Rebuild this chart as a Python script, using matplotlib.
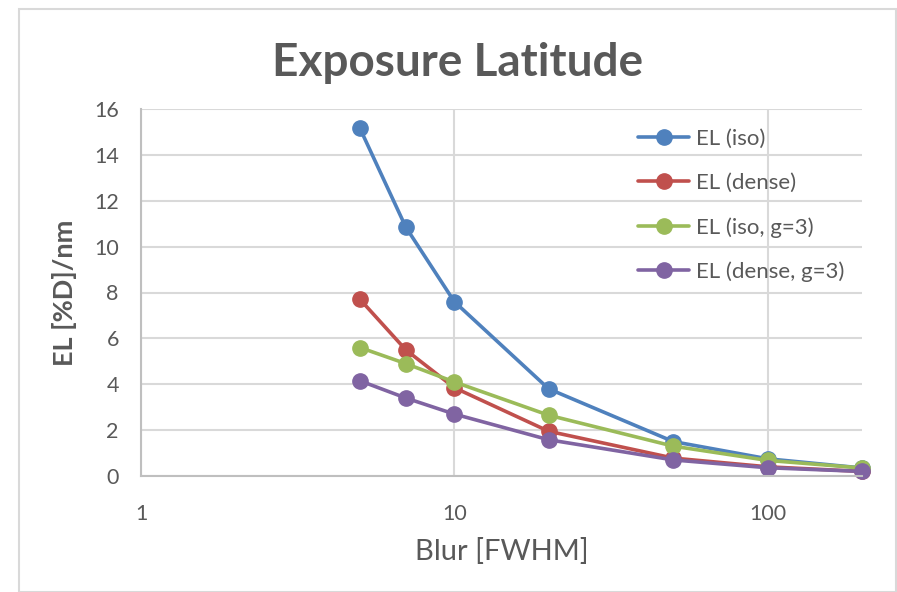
import matplotlib.pyplot as plt
from matplotlib.patches import Rectangle

blur = [5, 7, 10, 20, 50, 100, 200]
el_iso = [15.15, 10.85, 7.6, 3.8, 1.5, 0.75, 0.35]
el_dense = [7.7, 5.5, 3.85, 1.95, 0.78, 0.4, 0.2]
el_iso_g3 = [5.6, 4.9, 4.1, 2.65, 1.3, 0.68, 0.35]
el_dense_g3 = [4.15, 3.4, 2.7, 1.58, 0.7, 0.36, 0.2]

series = [
    ('EL (iso)', el_iso, '#4F81BD'),
    ('EL (dense)', el_dense, '#C0504D'),
    ('EL (iso, g=3)', el_iso_g3, '#9BBB59'),
    ('EL (dense, g=3)', el_dense_g3, '#8064A2'),
]

plt.rcParams['font.family'] = ['Lato', 'DejaVu Sans']
txt = '#595959'
grid = '#D9D9D9'

fig = plt.figure(figsize=(8.97, 5.92), dpi=100)
fig.patches.append(Rectangle((19 / 897, 0), 877 / 897, 1 - 9 / 592,
                             transform=fig.transFigure, fill=False,
                             edgecolor=grid, linewidth=1.5))

ax = fig.add_axes([141 / 897, 1 - 476 / 592, 721 / 897, 367 / 592])
for name, vals, col in series:
    ax.plot(blur, vals, color=col, lw=2.6, marker='o', markersize=11,
            label=name, solid_capstyle='round', clip_on=False)

ax.set_xscale('log')
ax.set_xlim(1, 200)
ax.set_ylim(0, 16)
ax.set_yticks(range(0, 17, 2))
ax.set_xticks([1, 10, 100])
ax.set_xticklabels(['1', '10', '100'])
ax.minorticks_off()
ax.grid(True, color=grid, lw=1.5)
ax.set_axisbelow(True)
ax.tick_params(length=0, labelsize=15.5, colors=txt)
ax.tick_params(axis='y', pad=16)
ax.tick_params(axis='x', pad=20)
for s in ['top', 'right']:
    ax.spines[s].set_visible(False)
for s in ['left', 'bottom']:
    ax.spines[s].set_color('#BFBFBF')
    ax.spines[s].set_linewidth(1.5)

ax.set_xlabel('Blur [FWHM]', fontsize=21, color=txt, labelpad=10)
ax.set_ylabel('EL [%D]/nm', fontsize=19.5, color=txt, fontweight='bold', labelpad=12)
fig.text(458 / 897, 1 - 63 / 592, 'Exposure Latitude', fontsize=33,
         fontweight='bold', color=txt, ha='center', va='center')

leg = ax.legend(loc='upper left', bbox_to_anchor=(0.662, 1.0), frameon=False,
                fontsize=16, labelcolor=txt, handlelength=2.3,
                handletextpad=0.3, labelspacing=1.08)

fig.savefig('out.png', dpi=100)
